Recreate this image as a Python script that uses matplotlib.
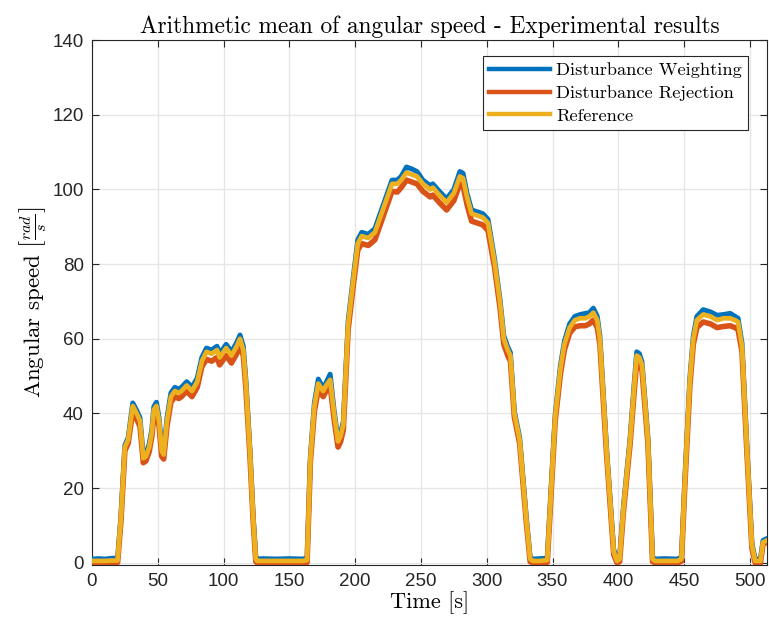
import matplotlib
matplotlib.use("Agg")
import matplotlib.pyplot as plt

# ---------------- data ----------------
time_s = [0, 5, 10, 15, 19.5, 22, 25, 27.5, 31, 34, 36.5, 39, 41, 43.5, 45.5, 47, 49, 51, 53, 54.5,
          57, 60, 63, 66, 68, 72, 76, 80, 83.5, 87, 91, 95, 97, 102, 106, 110, 112.5, 115, 117, 120,
          122.5, 124.5, 125.5, 130, 140, 150, 160, 163.5, 166, 169, 172, 175.7, 178, 181, 184, 187, 189, 191,
          194.7, 198.5, 202, 205, 210, 215, 221, 228, 232, 235, 239, 243, 247, 251.5, 257, 259, 264, 269.5,
          275, 279.6, 282, 285, 288.5, 293, 297, 301, 306, 310, 313, 316, 318, 321, 325, 330, 333, 335,
          340, 346, 349, 352, 356, 359, 363, 367, 371, 375, 378, 381, 384, 386, 391, 396.5, 399, 401,
          404, 409, 412, 414, 416, 418, 422.5, 426, 428, 435, 445, 448, 450.6, 454.4, 457, 459.7, 464.5,
          470, 475, 480, 485, 488.6, 491, 494, 497.6, 501.5, 504, 508, 510, 513]

reference = [0.5, 0.5, 0.5, 0.6, 0.6, 12, 31, 33, 42, 40, 38, 28, 28.5, 31, 35, 41, 42, 38, 30, 29,
             38, 44.5, 46, 45.5, 46, 47.5, 46, 48.5, 54, 56.5, 56, 57, 55, 57.5, 55.5, 58, 60, 57, 48, 30,
             12, 1, 0.5, 0.5, 0.5, 0.5, 0.5, 0.7, 28, 42, 48, 46, 47.5, 49, 40, 32.5, 34, 37,
             64, 75.5, 85.5, 87.5, 87, 88.5, 94.5, 101.5, 101.5, 102.5, 104.5, 104, 103.5, 101.5, 100, 100.5, 98.5, 96.5,
             99, 103.5, 103, 98, 93.5, 93, 92.5, 91, 80.5, 70, 60, 57, 55.5, 40, 33, 12, 1, 0.5,
             0.5, 0.7, 20, 39, 52, 58.5, 63, 65, 65.5, 65.5, 66, 67, 65, 60, 30.5, 3, 0.5, 1,
             15, 33, 47, 55.5, 55, 53, 33, 1, 0.5, 0.5, 0.5, 1, 22, 49, 60, 65, 66.5,
             66, 65, 65.5, 65.5, 65, 64.5, 58, 31.5, 4.8, 0.5, 0.5, 5.5, 6]

dist_weighting = [1.0, 1.1, 1.0, 1.2, 1.2, 12.5, 31.5, 33.5, 42.8, 40.8, 38.8, 28.8, 29.3, 31.8, 35.8, 41.8, 43, 38.8, 30.8, 29.8,
                  38.8, 45.5, 47, 46.5, 47, 48.5, 47, 49.5, 55, 57.5, 57, 58, 56, 58.5, 56.5, 59, 61, 58, 48.8, 30.6,
                  12.5, 1.5, 1.0, 1.1, 1.0, 1.1, 1.0, 1.2, 28.6, 42.8, 49.2, 46.8, 48.3, 50.5, 40.8, 33, 34.8, 37.8,
                  64.8, 76.3, 86.5, 88.5, 88, 89.5, 95.5, 102.5, 102.5, 103.5, 106, 105.5, 104.8, 102.5, 101, 101.5, 99.5, 97.5,
                  100, 104.8, 104.3, 99, 94.5, 94, 93.5, 92, 81.3, 70.8, 60.8, 57.8, 56.3, 40.6, 33.6, 12.5, 1.5, 1.0,
                  1.1, 1.2, 20.5, 39.6, 52.8, 59.3, 64, 66, 66.5, 66.8, 67, 68.2, 66, 60.8, 31, 3.5, 1.0, 1.5,
                  15.5, 33.6, 47.8, 56.5, 56, 53.8, 33.6, 1.5, 1.0, 1.1, 1.0, 1.5, 22.5, 49.6, 60.8, 66, 67.8,
                  67.2, 66.3, 66.5, 66.8, 66, 65.5, 58.8, 32, 5.3, 1.0, 1.0, 6, 6.5]

dist_rejection = [0.0, -0.1, 0.0, 0.0, 0.1, 11, 30, 32, 40.5, 38.5, 36.5, 26.8, 27.3, 29.8, 33.8, 39.5, 40.5, 36.5, 28.5, 27.8,
                  36.5, 43, 44.5, 44, 44.5, 46, 44.5, 47, 52.5, 54.5, 54, 55, 53, 55.5, 53.5, 56, 58.2, 55.5, 46.5, 29,
                  11.2, 0.3, 0.0, -0.1, 0.0, 0.0, -0.1, 0.1, 27, 40.5, 46.5, 44.5, 46, 47.5, 38.5, 31, 32.5, 35.5,
                  62.5, 74, 83.8, 85.5, 85, 86.5, 92.5, 99.5, 99.3, 100.5, 102.5, 102, 101.5, 99.5, 98, 98.5, 96.5, 94.5,
                  97, 101.5, 101, 96, 91.5, 91, 90.5, 89, 79, 68.5, 58.5, 55.5, 54, 39, 32, 11.2, 0.3, 0.0,
                  -0.1, 0.1, 19, 37.8, 50.5, 57, 61.5, 63.2, 63.5, 63.5, 64, 65, 63, 58.5, 29.5, 2.2, 0.0, 0.3,
                  14, 32, 45.5, 54, 53.5, 51.5, 32, 0.3, 0.0, -0.1, 0.0, 0.4, 21, 47.5, 58.5, 63, 64.5,
                  64, 63, 63.3, 63.5, 63, 62.5, 56.5, 30.5, 4, 0.0, -0.1, 5, 5.5]

series_labels = ["Disturbance Weighting", "Disturbance Rejection", "Reference"]
series_colors = ["#0072BD", "#D95319", "#EDB120"]
x_ticks = [0, 50, 100, 150, 200, 250, 300, 350, 400, 450, 500]
y_ticks = [0, 20, 40, 60, 80, 100, 120, 140]

# ---------------- figure ----------------
plt.rcParams["mathtext.fontset"] = "cm"
plt.rcParams["axes.unicode_minus"] = False

fig = plt.figure(figsize=(7.69, 6.37), dpi=100)
ax = fig.add_axes([0.1196, 0.113, 0.8778, 0.824])

ax.plot(time_s, dist_weighting, color=series_colors[0], lw=3.6, label=series_labels[0],
        solid_joinstyle="round", zorder=3)
ax.plot(time_s, dist_rejection, color=series_colors[1], lw=4.0, label=series_labels[1],
        solid_joinstyle="round", zorder=4)
ax.plot(time_s, reference, color=series_colors[2], lw=3.4, label=series_labels[2],
        solid_joinstyle="round", zorder=5)

ax.set_xlim(0, 513)
ax.set_ylim(-0.6, 140)
ax.set_xticks(x_ticks)
ax.set_yticks(y_ticks)

ax.grid(True, color="#e6e6e6", lw=1.0)
ax.set_axisbelow(True)
for s in ax.spines.values():
    s.set_color("#262626")
    s.set_linewidth(0.8)
ax.tick_params(direction="in", length=5, width=0.8, color="#262626",
               top=True, right=True, labelsize=13.5, labelcolor="#262626", pad=6)
for lab in ax.get_xticklabels() + ax.get_yticklabels():
    lab.set_family("Liberation Sans")

serif = "cmr10"
ax.set_title("Arithmetic mean of angular speed - Experimental results",
             fontsize=16.8, family=serif, pad=5)
ax.set_xlabel("Time [s]", fontsize=16, family=serif, labelpad=1)
ax.set_ylabel(r"Angular speed $\left[\frac{rad}{s}\right]$", fontsize=16.5, family=serif, labelpad=3)

leg = ax.legend(loc="upper right", bbox_to_anchor=(0.972, 0.97), prop={"family": serif, "size": 13.2},
                frameon=True, fancybox=False, edgecolor="#262626", framealpha=1,
                handlelength=3.3, handletextpad=0.35, borderpad=0.35, labelspacing=0.38,
                borderaxespad=0.0)
leg.get_frame().set_linewidth(0.8)
for line in leg.get_lines():
    line.set_linewidth(3.2)

fig.savefig("out.png", dpi=100)
